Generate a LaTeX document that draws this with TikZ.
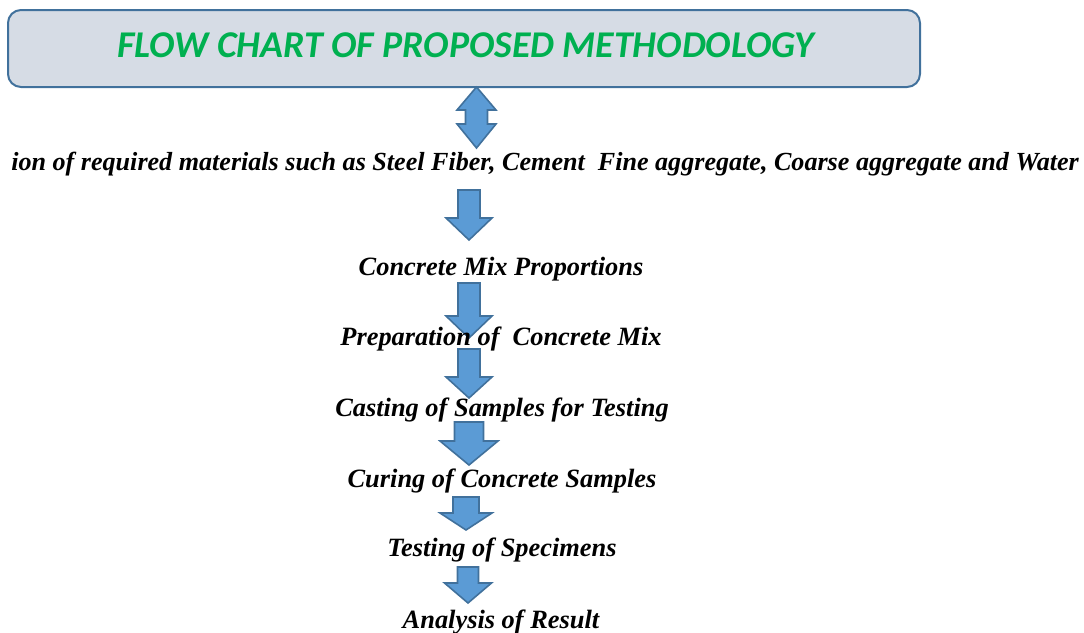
\documentclass[tikz,border=0pt]{standalone}
\usepackage{fontspec}
\setmainfont{Liberation Serif}
\newfontfamily\titlefont{Carlito}
\usetikzlibrary{positioning}
\definecolor{arrowblue}{HTML}{5B9BD5}
\definecolor{edgeblue}{HTML}{41719C}
\definecolor{boxgray}{HTML}{D6DCE5}
\definecolor{titlegreen}{HTML}{00B050}
\tikzset{
    steptext/.style={anchor=base, inner sep=0pt, font=\fontsize{26.4}{30}\selectfont\bfseries\itshape},
    blockarrow/.style={fill=arrowblue, draw=edgeblue, line width=1.6pt, line join=miter},
}
% x, top, head base, tip, half shaft, half head
\newcommand{\downblock}[6]{\draw[blockarrow] (#1-#5,#2)--(#1+#5,#2)--(#1+#5,#3)--(#1+#6,#3)--(#1,#4)--(#1-#6,#3)--(#1-#5,#3)--cycle;}

\begin{document}
\begin{tikzpicture}[x=1pt,y=-1pt]
    \useasboundingbox (0,0) rectangle (1084,632);
    \node[draw=edgeblue, fill=boxgray, line width=2pt, rounded corners=13pt,
          minimum width=912pt, minimum height=77pt] (titlebox) at (464,48.5) {};
    \node[anchor=base, inner sep=0pt, text=titlegreen,
          font=\titlefont\fontsize{37.8}{44}\selectfont\bfseries\itshape] (titletext) at (466,57)
          {FLOW CHART OF PROPOSED METHODOLOGY};

    \draw[blockarrow] (476.5,87)--(496,110)--(487.5,110)--(487.5,124)--(496,124)--(476.5,148)
        --(457,124)--(465.5,124)--(465.5,110)--(457,110)--cycle;
    \downblock{469}{190}{218}{240}{11}{23}
    \downblock{469}{283}{316}{338}{11}{23}
    \downblock{469}{349}{377}{398}{11}{23}
    \downblock{469}{422}{441}{465}{14.5}{29}
    \downblock{466}{497}{513}{530}{13}{26}
    \downblock{468}{567}{583}{603}{10.5}{23.5}

    \node[steptext, anchor=base east, font=\fontsize{26.1}{30}\selectfont\bfseries\itshape] (materials) at (1079,170)
        {ion of required materials such as Steel Fiber, Cement\ \ Fine aggregate, Coarse aggregate and Water};
    \node[steptext] (mix) at (501,275) {Concrete Mix Proportions};
    \node[steptext] (prep) at (501,345) {Preparation of\ \ Concrete Mix};
    \node[steptext] (cast) at (502,416) {Casting of Samples for Testing};
    \node[steptext] (cure) at (502,487) {Curing of Concrete Samples};
    \node[steptext] (test) at (502,556) {Testing of Specimens};
    \node[steptext] (result) at (501,628) {Analysis of Result};
\end{tikzpicture}
\end{document}
